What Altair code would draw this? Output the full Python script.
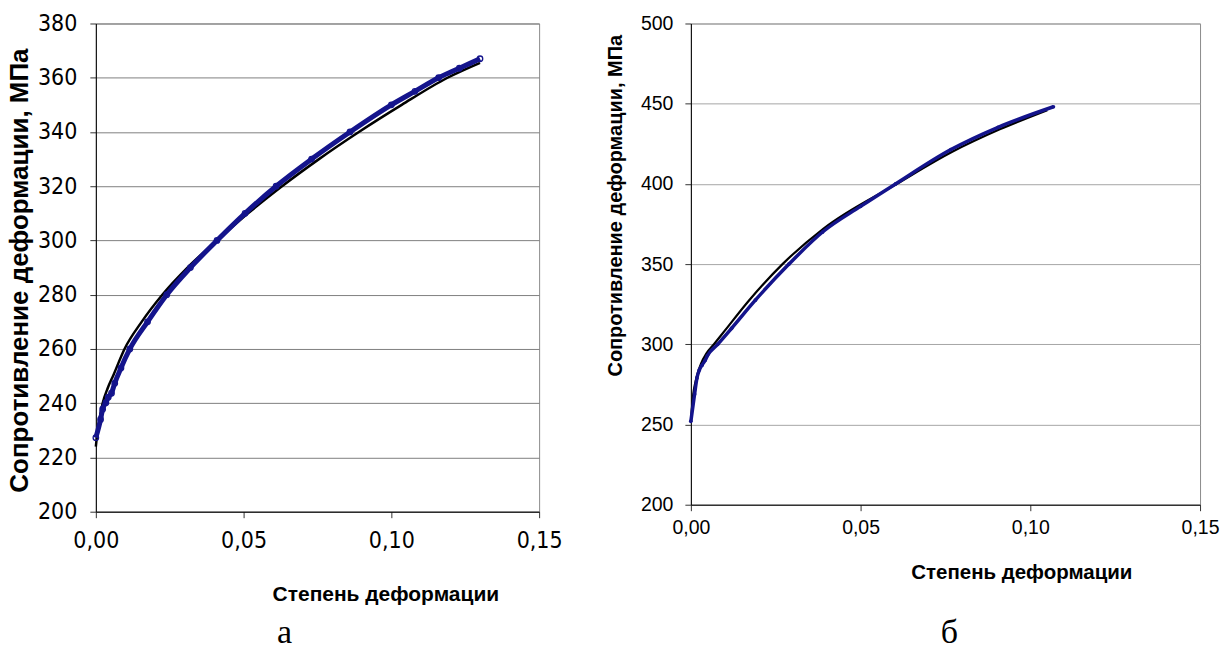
import altair as alt
import pandas as pd

# ---- Panel "а" (left) ----
left_exp_strain = [0.0, 0.0016, 0.0023, 0.0034, 0.0042, 0.0053, 0.0064, 0.0085, 0.0115, 0.0175,
                   0.024, 0.032, 0.041, 0.0505, 0.061, 0.073, 0.086, 0.100, 0.108, 0.116, 0.123, 0.130]
left_exp_stress = [227.3, 234.0, 237.8, 240.2, 242.2, 243.7, 247.4, 253.0, 260.0, 270.0,
                   280.0, 290.0, 300.0, 310.0, 320.0, 330.0, 340.0, 350.0, 355.0, 360.0, 363.5, 367.0]
left_fit_strain = [0.0, 0.0005, 0.0012, 0.0023, 0.004, 0.006, 0.0097, 0.0155, 0.0225, 0.031,
                   0.041, 0.0515, 0.063, 0.0755, 0.089, 0.1035, 0.119, 0.130]
left_fit_stress = [224.0, 229.0, 234.0, 240.0, 245.5, 250.5, 260.0, 270.0, 280.0, 290.0,
                   300.0, 310.0, 320.0, 330.0, 340.0, 350.0, 360.0, 365.5]
left_y_ticks = [200, 220, 240, 260, 280, 300, 320, 340, 360, 380]

# ---- Panel "б" (right) ----
right_exp_strain = [0.0, 0.0011, 0.0018, 0.0025, 0.0033, 0.0042, 0.0049, 0.0079, 0.012, 0.019,
                    0.0289, 0.0388, 0.050, 0.0603, 0.0766, 0.0905, 0.1068]
right_exp_stress = [252.0, 269.0, 279.0, 284.0, 287.0, 290.0, 293.0, 300.0, 310.0, 327.5,
                    350.0, 370.0, 386.0, 400.0, 421.4, 435.3, 448.1]
right_fit_strain = [0.0, 0.0003, 0.0007, 0.0013, 0.002, 0.003, 0.0045, 0.0068, 0.010, 0.017,
                    0.027, 0.039, 0.0607, 0.077, 0.091, 0.105]
right_fit_stress = [251.0, 260.0, 269.0, 276.0, 282.0, 288.0, 294.0, 300.0, 308.5, 327.0,
                    350.0, 372.0, 400.0, 420.0, 434.0, 446.0]
right_y_ticks = [200, 250, 300, 350, 400, 450, 500]

x_ticks = [0.0, 0.05, 0.10, 0.15]
x_title = "Степень деформации"
y_title = "Сопротивление деформации, МПа"
captions = ["а", "б"]

BLUE = "#14148c"
label_expr = "replace(format(datum.value, '.2f'), '.', ',')"


def panel(exp_x, exp_y, fit_x, fit_y, y_ticks, ydom, w, h, cfg):
    exp = pd.DataFrame({"e": exp_x, "s": exp_y})
    fit = pd.DataFrame({"e": fit_x, "s": fit_y})
    xs = alt.Scale(domain=[0, 0.15], nice=False, zero=False)
    ys = alt.Scale(domain=ydom, nice=False, zero=False)
    xaxis = alt.Axis(values=x_ticks, labelExpr=label_expr, grid=False, labelFlush=False,
                     labelOverlap=False,
                     domainColor="#000", domainWidth=1, tickColor="#333", tickSize=6,
                     labelFont=cfg["lfont"], labelFontSize=cfg["lsize"], labelColor="#000",
                     labelPadding=cfg["xlpad"], title=x_title, titleFont="Liberation Sans",
                     titleFontWeight="bold", titleFontSize=cfg["xtsize"], titleColor="#000",
                     titleX=cfg["xtx"], titleY=cfg["xty"], titleAlign="center",
                     titleBaseline="middle")
    yaxis = alt.Axis(values=y_ticks, grid=True, gridColor=cfg["grid"], gridWidth=1,
                     labelFlush=False, labelOverlap=False,
                     domainColor="#000", domainWidth=1, tickColor="#333", tickSize=6,
                     labelFont=cfg["lfont"], labelFontSize=cfg["lsize"], labelColor="#000",
                     labelPadding=cfg["ylpad"], title=y_title, titleFont="Liberation Sans",
                     titleFontWeight="bold", titleFontSize=cfg["ytsize"], titleColor="#000",
                     titleX=cfg["ytx"], titleY=cfg["yty"], titleAlign="center",
                     titleBaseline="middle", titleAngle=270)
    fit_line = alt.Chart(fit).mark_line(color="#000", strokeWidth=cfg["fitw"],
                                        interpolate="monotone").encode(
        x=alt.X("e:Q", scale=xs, axis=xaxis),
        y=alt.Y("s:Q", scale=ys, axis=yaxis),
        order="e:Q")
    exp_line = alt.Chart(exp).mark_line(color=BLUE, strokeWidth=cfg["bandw"],
                                        interpolate="monotone").encode(
        x=alt.X("e:Q", scale=xs), y=alt.Y("s:Q", scale=ys), order="e:Q")
    if cfg["open"]:
        pts = alt.Chart(exp).mark_point(shape="circle", filled=False, color=BLUE,
                                        size=cfg["psize"], strokeWidth=1.3, opacity=1)
    else:
        pts = alt.Chart(exp).mark_point(shape="circle", filled=True, color=BLUE,
                                        size=cfg["psize"], opacity=1)
    pts = pts.encode(x=alt.X("e:Q", scale=xs), y=alt.Y("s:Q", scale=ys))
    cap = alt.Chart(pd.DataFrame({"t": [cfg["cap"]]})).mark_text(
        font="Liberation Serif", fontSize=34, color="#000", align="center",
        baseline="bottom").encode(text="t:N", x=alt.value(cfg["capx"]), y=alt.value(cfg["capy"]))
    return alt.layer(fit_line, exp_line, pts, cap).properties(width=w, height=h)


left = panel(left_exp_strain, left_exp_stress, left_fit_strain, left_fit_stress,
             left_y_ticks, [200, 380], 444, 489,
             dict(lfont="Liberation Sans Narrow, DejaVu Sans Condensed, Liberation Sans",
                  lsize=23, xlpad=12, ylpad=13,
                  xtsize=21, xtx=290, xty=83, ytsize=26, ytx=-76, yty=247,
                  grid="#7f7f7f", fitw=2.5, bandw=5, open=True, psize=30,
                  cap=captions[0], capx=189, capy=628))
right = panel(right_exp_strain, right_exp_stress, right_fit_strain, right_fit_stress,
              right_y_ticks, [200, 500], 510, 482,
              dict(lfont="Liberation Sans", lsize=19.5, xlpad=8, ylpad=12,
                   xtsize=20.5, xtx=331, xty=68, ytsize=20, ytx=-75, yty=182,
                   grid="#a6a6a6", fitw=2.2, bandw=3.5, open=False, psize=14,
                   cap=captions[1], capx=259, capy=628))

chart = alt.hconcat(left, right, spacing=42).properties(
    padding={"left": 6, "top": 11, "right": 0, "bottom": 0},
    background="#ffffff"
).configure_view(stroke="#8c8c8c", strokeWidth=1)

chart.save("out.html", embed_options={"renderer": "svg", "actions": False})
